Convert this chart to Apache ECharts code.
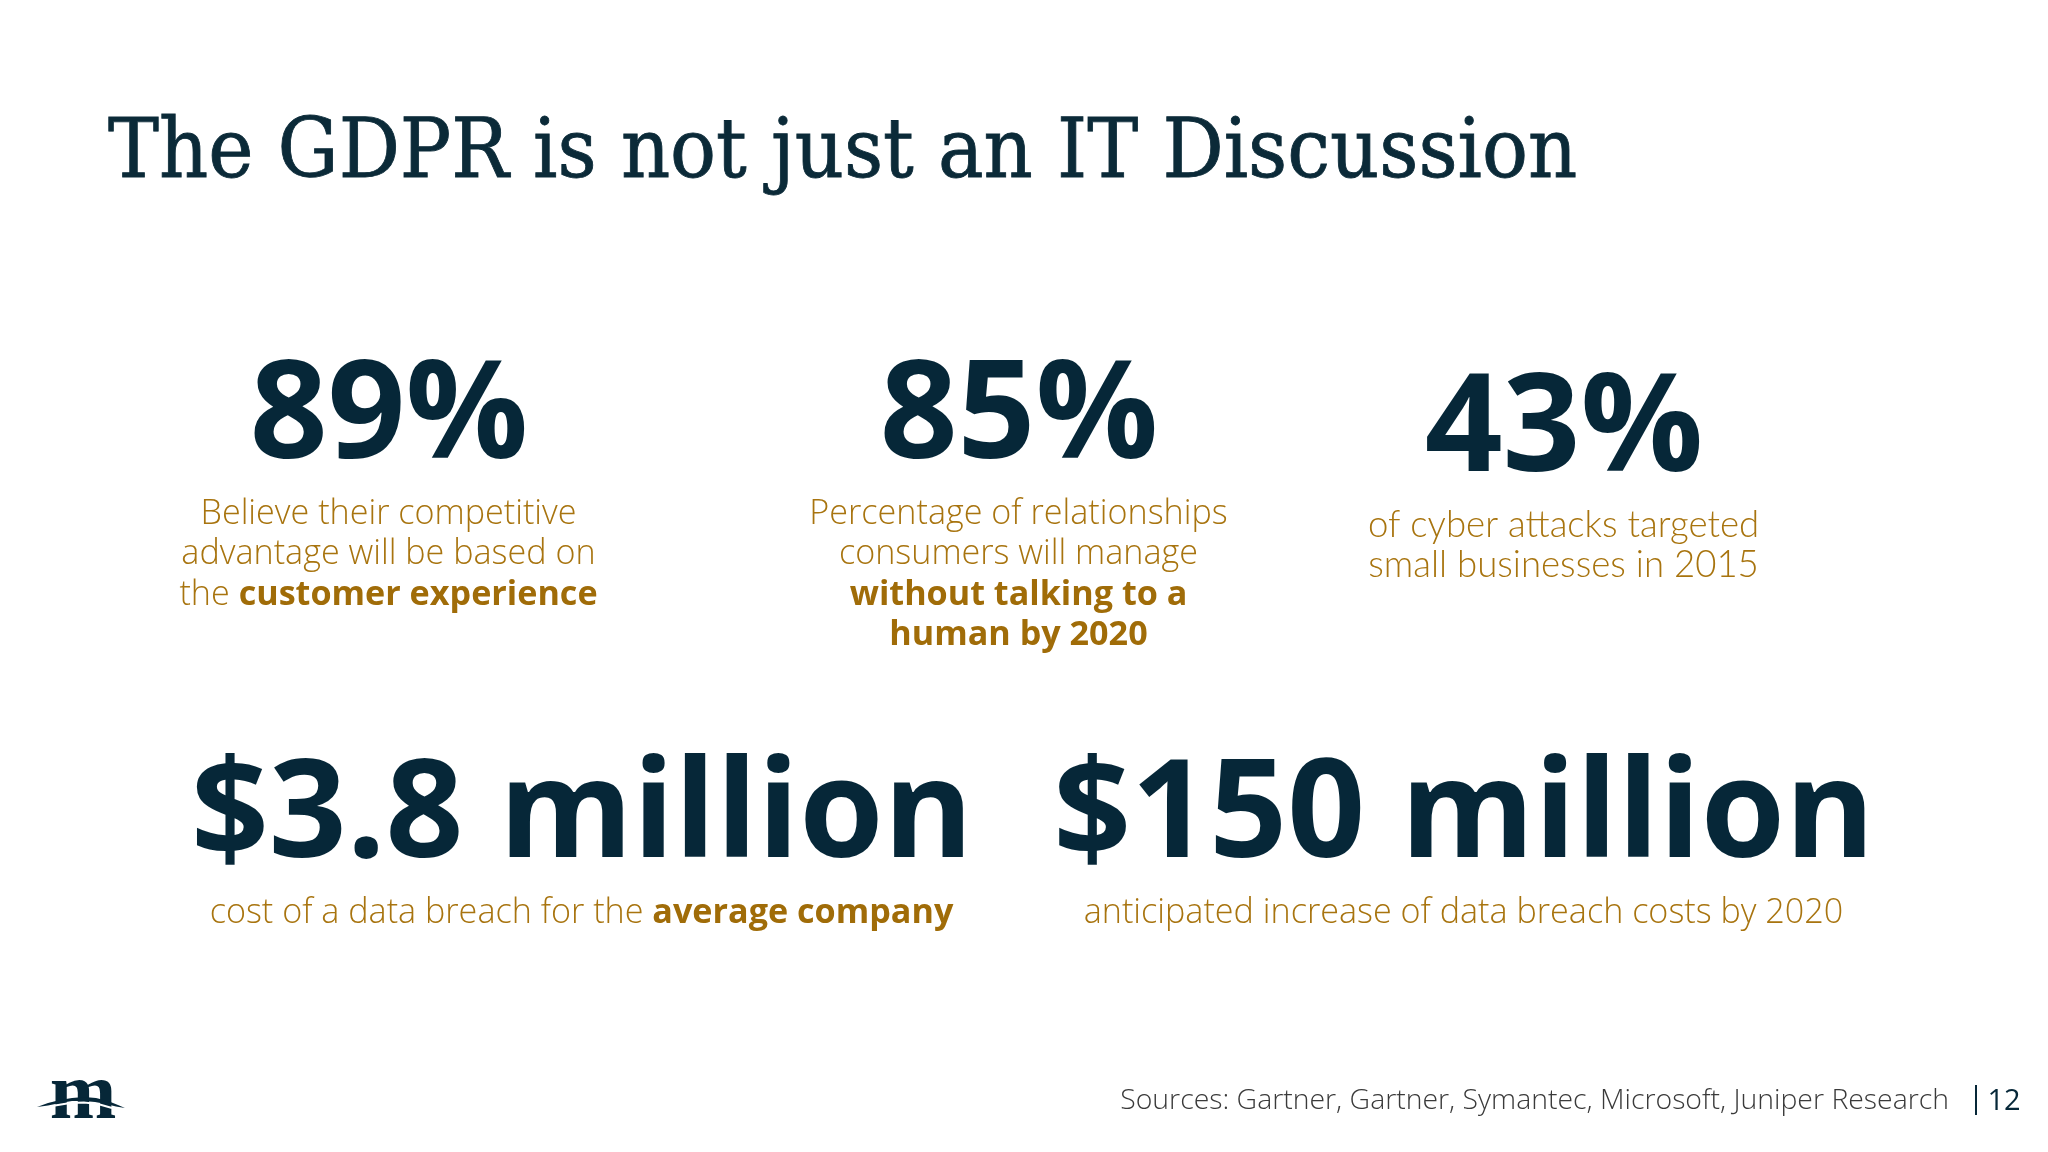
<!DOCTYPE html>
<html>
<head>
<meta charset="utf-8">
<style>
  html, body { margin: 0; padding: 0; background: #fff; }
  #main { width: 2048px; height: 1152px; }
</style>
<script src="https://cdn.jsdelivr.net/npm/echarts@6/dist/echarts.min.js"></script>
</head>
<body>
<div id="main"></div>
<script>
const titleText = "The GDPR is not just an IT Discussion";
const statValues = ["89%", "85%", "43%", "$3.8 million", "$150 million"];
// {b|...} marks the bold part of a caption line
const statCaptions = [
  ["Believe their competitive", "advantage will be based on", "the {b|customer experience}"],
  ["Percentage of relationships", "consumers will manage", "{b|without talking to a}", "{b|human by 2020}"],
  ["of cyber attacks targeted", "small businesses in 2015"],
  ["cost of a data breach for the {b|average company}"],
  ["anticipated increase of data breach costs by 2020"],
];
const sourcesText = "Sources: Gartner, Gartner, Symantec, Microsoft, Juniper Research";
const pageNumber = "12";
const logoLetter = "m";

const navy = "#062738";
const gold = "#A8740F";

// where each stat block sits: centre x, value centre y, caption first line y
const slots = [
  { x: 389, y: 419, capY: 514 },
  { x: 1019, y: 419, capY: 514 },
  { x: 1564, y: 432, capY: 525 },
  { x: 582, y: 818, capY: 913 },
  { x: 1464, y: 818, capY: 913 },
];

const elements = [];

elements.push({
  type: "text", x: 108, y: 155, scaleX: 1.023,
  style: {
    text: titleText, font: "83px 'DejaVu Serif Condensed'", fill: "#0B2A38", verticalAlign: "middle",
    stroke: "#0B2A38", lineWidth: 0.8,
  },
});

statValues.forEach((value, i) => {
  const slot = slots[i];
  elements.push({
    type: "text", x: slot.x, y: slot.y,
    style: {
      text: value, fill: navy, align: "center", verticalAlign: "middle",
      font: "bold 136.3px 'Open Sans'",
    },
  });
  // the 43% caption is in a rounder face on the slide
  const captionFont = i === 2 ? "300 36.6px Lato" : "300 34.15px 'Open Sans'";
  statCaptions[i].forEach((line, k) => {
    elements.push({
      type: "text", x: slot.x - 0.5, y: slot.capY + k * 40.5,
      style: {
        text: line, fill: gold, align: "center", verticalAlign: "middle",
        font: captionFont,
        rich: { b: { font: "bold 34.15px 'Open Sans'", fill: "#A06C08" } },
      },
    });
  });
});

// footer
elements.push({
  type: "text", x: 1949, y: 1101,
  style: { text: sourcesText, font: "300 28.4px 'Open Sans'", fill: "#3A3A3A", align: "right", verticalAlign: "middle" },
});
elements.push({
  type: "line",
  shape: { x1: 1976, y1: 1085, x2: 1976, y2: 1115 },
  style: { stroke: navy, lineWidth: 2 },
});
elements.push({
  type: "text", x: 2004, y: 1102,
  style: { text: pageNumber, font: "29px 'Open Sans'", fill: navy, align: "center", verticalAlign: "middle" },
});

// logo: serif letter with a swoosh through it
elements.push({
  type: "text", x: 83, y: 1097,
  style: { text: logoLetter, font: "bold 80px 'Liberation Serif'", fill: navy, align: "center", verticalAlign: "middle" },
});
// white gap under the swoosh, then the swoosh itself
elements.push({
  type: "polyline",
  shape: { points: [[52, 1106], [70, 1103], [84, 1102.5], [98, 1104], [112, 1108]] },
  style: { stroke: "#fff", lineWidth: 2, fill: null },
});
elements.push({
  type: "polygon",
  shape: {
    points: [
      [37, 1107], [48, 1103], [60, 1100], [72, 1098], [84, 1097], [96, 1098], [108, 1101], [118, 1105], [125, 1108],
      [116, 1106.5], [106, 1104], [95, 1102], [84, 1101], [72, 1101], [60, 1103], [48, 1105.5],
    ],
  },
  style: { fill: navy },
});

const chart = echarts.init(document.getElementById("main"), null, { renderer: "canvas" });
chart.setOption({
  backgroundColor: "#ffffff",
  animation: false,
  graphic: { elements: elements },
});
</script>
</body>
</html>
